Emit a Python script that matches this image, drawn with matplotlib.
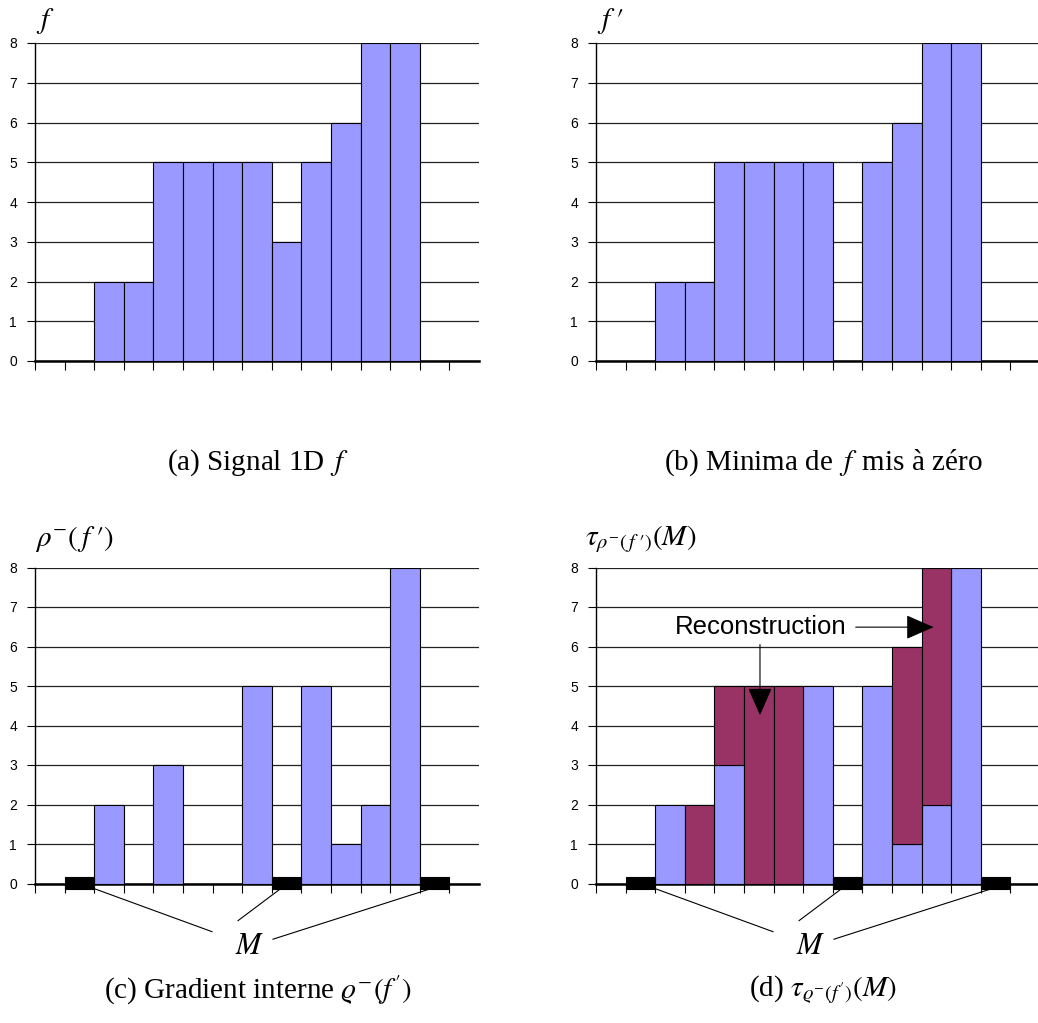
import numpy as np
import matplotlib.pyplot as plt

plt.rcParams['mathtext.fontset'] = 'stix'
plt.rcParams['font.family'] = ['Liberation Sans', 'DejaVu Sans']

# data
cats = np.arange(15)
f_vals = [0, 0, 2, 2, 5, 5, 5, 5, 3, 5, 6, 8, 8, 0, 0]
fp_vals = [0, 0, 2, 2, 5, 5, 5, 5, 0, 5, 6, 8, 8, 0, 0]
grad_vals = [0, 0, 2, 0, 3, 0, 0, 5, 0, 5, 1, 2, 8, 0, 0]
recon_vals = [0, 0, 2, 2, 5, 5, 5, 5, 0, 5, 6, 8, 8, 0, 0]
marker_idx = [1, 8, 13]

blue = '#9999FF'
purple = '#993366'

fig = plt.figure(figsize=(10.38, 10.23), dpi=100)
W, H = 1038.0, 1023.0


def make_ax(x0, y_top, y_bot):
    ax = fig.add_axes([x0 / W, 1 - y_bot / H, 444 / W, (y_bot - y_top) / H])
    ax.set_xlim(0, 15)
    ax.set_ylim(0, 8)
    ax.set_yticks(range(9))
    ax.set_xticks(range(15))
    ax.set_xticklabels([])
    for s in ['top', 'right']:
        ax.spines[s].set_visible(False)
    ax.spines['left'].set_linewidth(1.0)
    ax.spines['bottom'].set_linewidth(1.8)
    ax.tick_params(axis='y', direction='out', length=6, width=0.8, pad=7, labelsize=10)
    ax.tick_params(axis='x', direction='out', length=6.5, width=0.8)
    ax.grid(axis='y', color='#222222', lw=0.9)
    ax.set_axisbelow(True)
    return ax


def bars(ax, vals, bottom=0, color=blue):
    ax.bar(cats + 0.5, vals, width=1.0, bottom=bottom, color=color,
           edgecolor='black', linewidth=0.8, zorder=3)


def markers(ax):
    for i in marker_idx:
        ax.bar(i + 0.5, 0.29, width=1.0, bottom=-0.13, color='black',
               edgecolor='black', linewidth=0.8, zorder=5, clip_on=False)


def m_label(ax):
    ax.text(7.25, -1.58, '$M$', fontsize=22, ha='center', va='center')
    ends = [(2.0, -0.13, 5.98, -1.22), (8.3, -0.13, 6.86, -0.94), (13.5, -0.1, 8.04, -1.41)]
    for x1, y1, x2, y2 in ends:
        ax.plot([x1, x2], [y1, y2], color='black', lw=0.8, clip_on=False)


# (a)
ax_a = make_ax(35, 43, 361)
bars(ax_a, f_vals)

# (b)
ax_b = make_ax(596, 43, 361)
bars(ax_b, fp_vals)

# (c)
ax_c = make_ax(35, 567.5, 883.5)
bars(ax_c, grad_vals)
markers(ax_c)
m_label(ax_c)

# (d)
ax_d = make_ax(596, 567.5, 883.5)
bars(ax_d, grad_vals)
diff = np.array(recon_vals) - np.array(grad_vals)
keep = diff > 0
ax_d.bar(cats[keep] + 0.5, diff[keep], width=1.0, bottom=np.array(grad_vals)[keep],
         color=purple, edgecolor='black', linewidth=0.8, zorder=3)
markers(ax_d)
m_label(ax_d)

ax_d.text(5.55, 6.49, 'Reconstruction', fontsize=18.5, ha='center', va='center', zorder=6)
ax_d.annotate('', xy=(5.54, 4.19), xytext=(5.54, 6.12),
              arrowprops=dict(arrowstyle='-|>,head_length=0.8,head_width=0.35',
                              mutation_scale=22, color='black', lw=0.8), zorder=6)
ax_d.annotate('', xy=(11.5, 6.49), xytext=(8.68, 6.49),
              arrowprops=dict(arrowstyle='-|>,head_length=0.8,head_width=0.35',
                              mutation_scale=22, color='black', lw=0.8), zorder=6)

# panel titles
fig.text(36 / W, 1 - 21 / H, "$f$", fontsize=21, ha='left', va='center')
fig.text(597 / W, 1 - 21 / H, "$f\\;\\prime$", fontsize=21, ha='left', va='center')
fig.text(35 / W, 1 - 539 / H, "$\\rho^{-}(\\,f\\;\\prime)$", fontsize=21, ha='left', va='center')
fig.text(585 / W, 1 - 539 / H, "$\\tau_{\\rho^{-}(\\,f\\;\\prime)}(M)$", fontsize=21, ha='left', va='center')

# captions
cap = dict(fontsize=21, ha='center', va='center', family=['Liberation Serif', 'DejaVu Serif'])
fig.text(258 / W, 1 - 463 / H, "(a) Signal 1D $\\,f$", **cap)
fig.text(823 / W, 1 - 463 / H, "(b) Minima de $\\,f\\,$ mis à zéro", **cap)
fig.text(258 / W, 1 - 990 / H, "(c) Gradient interne $\\varrho^{-}(f')$", **cap)
fig.text(823 / W, 1 - 990 / H, "(d) $\\tau_{\\varrho^{-}(f')}(M)$", **cap)

fig.savefig('out.png', dpi=100)
